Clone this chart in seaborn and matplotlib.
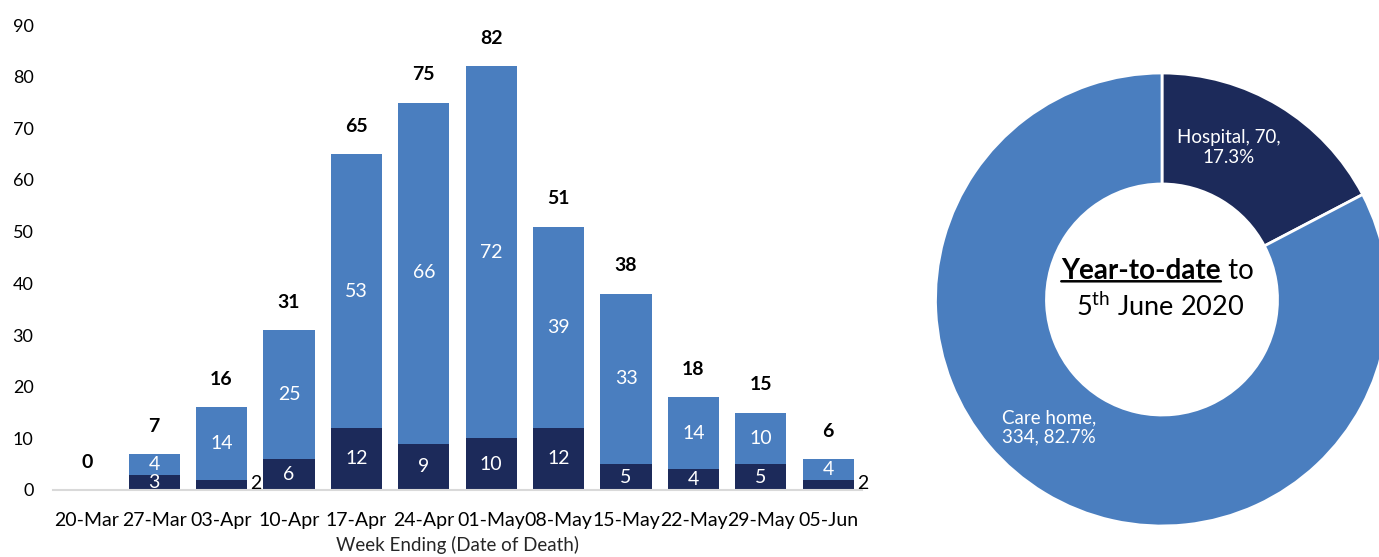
import matplotlib
matplotlib.use("Agg")
import matplotlib.pyplot as plt
import seaborn as sns
import pandas as pd

weeks = ["20-Mar", "27-Mar", "03-Apr", "10-Apr", "17-Apr", "24-Apr",
         "01-May", "08-May", "15-May", "22-May", "29-May", "05-Jun"]
hospital = [0, 3, 2, 6, 12, 9, 10, 12, 5, 4, 5, 2]
care_home = [0, 4, 14, 25, 53, 66, 72, 39, 33, 14, 10, 4]
ytd_labels = ["Hospital", "Care home"]
ytd_values = [70, 334]
y_ticks = [0, 10, 20, 30, 40, 50, 60, 70, 80, 90]

LIGHT = "#4a7ebf"
DARK = "#1c2a5a"

sns.set_theme(style="white")
plt.rcParams['font.family'] = ['Lato', 'DejaVu Sans']
plt.rcParams['mathtext.fontset'] = 'custom'
plt.rcParams['mathtext.rm'] = 'Lato'
plt.rcParams['mathtext.it'] = 'Lato:italic'
plt.rcParams['mathtext.bf'] = 'Lato:bold'

W, H = 1379, 557
fig = plt.figure(figsize=(W / 100, H / 100), dpi=100)

# ---------------- stacked bar chart ----------------
ax = fig.add_axes([53 / W, (H - 490) / H, (862 - 53) / W, (490 - 25) / H])
totals = [h + c for h, c in zip(hospital, care_home)]
df = pd.DataFrame({"week": weeks, "hospital": hospital,
                   "care": care_home, "total": totals})
sns.barplot(data=df, x="week", y="total", color=LIGHT, width=0.76,
            saturation=1, linewidth=0, ax=ax)
sns.barplot(data=df, x="week", y="hospital", color=DARK, width=0.76,
            saturation=1, linewidth=0, ax=ax)

ax.set_ylim(0, 90)
ax.set_xlim(-0.5, len(weeks) - 0.5)
ax.set_yticks(y_ticks)
ax.tick_params(axis='both', length=0, labelsize=13, colors='black')
ax.tick_params(axis='x', labelsize=14)
ax.tick_params(axis='y', pad=14)
ax.tick_params(axis='x', pad=16)
ax.set_xlabel("Week Ending (Date of Death)", fontsize=13.5, labelpad=5)
ax.set_ylabel("")
sns.despine(ax=ax, left=True)
ax.spines['bottom'].set_color('#d9d9d9')
ax.spines['bottom'].set_linewidth(1.5)
ax.grid(False)

for i, (h, c, t) in enumerate(zip(hospital, care_home, totals)):
    # totals
    ax.annotate(f"{t}", xy=(i, t), xytext=(0, 20), textcoords='offset points',
                ha='center', va='center', fontsize=14, fontweight='bold',
                color='black')
    # hospital
    if h > 2:
        ax.text(i, h / 2, f"{h}", ha='center', va='center', color='white',
                fontsize=14)
    elif h > 0:
        ax.annotate(f"{h}", xy=(i + 0.38, h / 2), xytext=(2, 1),
                    textcoords='offset points', ha='left', va='center',
                    color='black', fontsize=14)
    # care home
    if c > 0:
        ax.text(i, h + c / 2, f"{c}", ha='center', va='center',
                color='white', fontsize=14)

# ---------------- donut ----------------
cx, cy, R = 1162, 299.5, 226.5
ax2 = fig.add_axes([(cx - R) / W, (H - cy - R) / H, 2 * R / W, 2 * R / H])
ax2.pie(ytd_values, colors=[DARK, LIGHT], startangle=90, counterclock=False,
        radius=1, wedgeprops=dict(width=0.49, edgecolor='white', linewidth=2))
ax2.set_xlim(-1, 1)
ax2.set_ylim(-1, 1)
ax2.set_axis_off()

total_ytd = sum(ytd_values)
label_pos = [(0.295, 0.67), (-0.50, -0.565)]
label_fmt = ["{lab}, {v},\n{pct:.1f}%", "{lab},\n{v}, {pct:.1f}%"]
for lab, v, (lx, ly), fmt in zip(ytd_labels, ytd_values, label_pos, label_fmt):
    pct = v / total_ytd * 100
    ax2.text(lx, ly, fmt.format(lab=lab, v=v, pct=pct), ha='center',
             va='center', color='white', fontsize=13.5, linespacing=1.2)

t1 = ax2.text(0, 0.124, "Year-to-date", ha='left', va='center',
              fontsize=20, fontweight='bold', color='black')
t2 = ax2.annotate(" to", xy=(1, 0), xycoords=t1, ha='left', va='bottom',
                  fontsize=20, color='black')
ax2.text(-0.01, -0.035, r"5$^{\mathrm{th}}$ June 2020", ha='center',
         va='center', fontsize=19.5, color='black')

fig.canvas.draw()
r = fig.canvas.get_renderer()
b1 = t1.get_window_extent(r)
b2 = t2.get_window_extent(r)
width_px = b2.x1 - b1.x0
center_px = ax2.transData.transform((-0.02, 0))[0]
new_left_px = center_px - width_px / 2
new_left = ax2.transData.inverted().transform((new_left_px, 0))[0]
t1.set_x(new_left)
ax2.annotate("", xy=(1, 0.12), xycoords=t1, xytext=(0, 0.12), textcoords=t1,
             arrowprops=dict(arrowstyle='-', color='black', lw=1.8,
                             shrinkA=0, shrinkB=0))

fig.savefig("out.png", dpi=100)
